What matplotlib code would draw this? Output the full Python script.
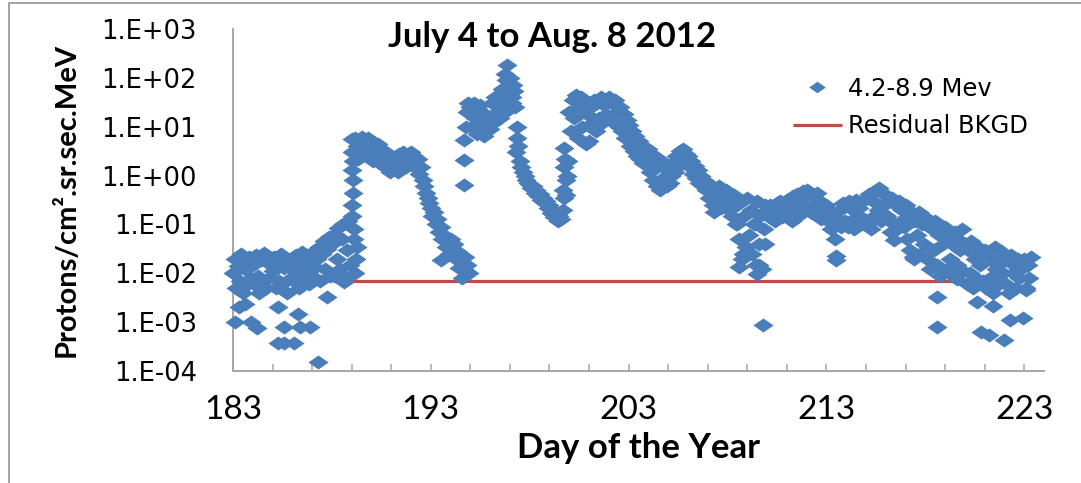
import matplotlib
matplotlib.use("Agg")
import matplotlib.pyplot as plt
import numpy as np
from matplotlib.lines import Line2D
from matplotlib.patches import Rectangle

BLUE = "#4A7EBB"
RED = "#BE4B48"
AXIS_GREY = "#A6A6A6"
LABEL_FONT = ["Lato", "DejaVu Sans"]
TICK_FONT = ["DejaVu Sans"]

# 2-hourly flux samples (protons/cm2.sr.sec.MeV), twelve per day from 00 UT
CADENCE = 1 / 12

quiet_start = 183.0
quiet_flux = [
    0.010, 0.020, 0.005, 0.014, 0.007, 0.025, 0.004, 0.012, 0.018, 0.006, 0.022, 0.008,  # 183
    0.015, 0.006, 0.024, 0.009, 0.004, 0.019, 0.007, 0.026, 0.005, 0.016, 0.008, 0.021,  # 184
    0.011, 0.022, 0.005, 0.017, 0.007, 0.025, 0.006, 0.013, 0.020, 0.004, 0.015, 0.008,  # 185
    0.019, 0.007, 0.024, 0.010, 0.005, 0.016, 0.027, 0.008, 0.013, 0.022, 0.006, 0.011,  # 186
    0.015, 0.028, 0.008, 0.020, 0.035, 0.007, 0.025, 0.045, 0.012, 0.032, 0.055, 0.009,  # 187
    0.040, 0.009, 0.065, 0.020, 0.085, 0.012, 0.050, 0.100, 0.008, 0.030, 0.120, 0.015,  # 188
]

event1_start = 189.0
event1_flux = [
    5.5, 3.0, 6.0, 4.0, 2.2, 5.0, 6.2, 3.5, 4.5, 2.5, 5.8, 4.0,                  # 189
    5.0, 2.0, 4.2, 3.0, 4.5, 1.8, 3.5, 2.5, 1.5, 3.0, 2.0, 1.2,                  # 190
    1.3, 2.0, 1.5, 2.5, 1.2, 2.8, 1.8, 3.0, 2.2, 1.5, 2.8, 2.0,                  # 191
    3.0, 1.8, 2.5, 1.4, 2.2, 1.1, 1.5, 0.8, 0.6, 0.45, 0.35, 0.28,               # 192
    0.22, 0.15, 0.18, 0.10, 0.13, 0.07, 0.09, 0.05, 0.06, 0.035, 0.045, 0.025,   # 193
    0.05, 0.03, 0.04, 0.02, 0.028, 0.013, 0.018, 0.008, 0.012, 0.022, 0.015, 0.01,  # 194
]

event2_start = 195.0
event2_flux = [
    25, 10, 30, 15, 7, 20, 28, 12, 6.5, 18, 9, 14,                              # 195
    9, 30, 12, 40, 20, 35, 15, 60, 25, 120, 180, 50,                            # 196
    100, 40, 70, 25, 10, 4, 2.0, 1.5, 1.2, 1.0, 0.8, 0.7,                       # 197
    0.65, 0.55, 0.6, 0.45, 0.5, 0.38, 0.42, 0.32, 0.35, 0.27, 0.3, 0.22,        # 198
    0.25, 0.17, 0.2, 0.14, 0.18, 0.12, 0.15, 0.13, 0.2, 0.35, 0.8, 2.0,         # 199
]

event3_start = 200.0
event3_flux = [
    20, 8, 35, 15, 45, 6, 25, 40, 10, 30, 4.5, 18,                              # 200
    5, 25, 12, 35, 8, 30, 15, 40, 12, 28, 18, 35,                               # 201
    40, 15, 30, 12, 35, 20, 10, 25, 8, 18, 6, 14,                               # 202
    11, 4, 8, 3.2, 6.5, 2.5, 5, 2.2, 4, 1.8, 3.2, 2.0,                          # 203
    3.5, 1.2, 2.8, 0.8, 2.2, 0.6, 1.6, 0.5, 2.0, 0.9, 1.4, 0.6,                 # 204
    1.3, 0.7, 1.0, 1.8, 1.2, 2.5, 1.6, 3.2, 2.2, 3.5, 2.0, 2.8,                 # 205
    2.5, 1.5, 2.0, 1.1, 1.6, 0.9, 1.3, 0.7, 1.0, 0.6, 0.8, 0.5,                 # 206
    0.7, 0.35, 0.55, 0.25, 0.18, 0.45, 0.3, 0.6, 0.22, 0.4, 0.28, 0.5,          # 207
    0.45, 0.2, 0.35, 0.15, 0.4, 0.1, 0.25, 0.05, 0.3, 0.02, 0.15, 0.035,        # 208
]

decay_start = 209.0
decay_flux = [
    0.35, 0.06, 0.2, 0.025, 0.1, 0.015, 0.3, 0.04, 0.15, 0.012, 0.08, 0.25,     # 209
    0.2, 0.15, 0.25, 0.13, 0.22, 0.12, 0.28, 0.16, 0.3, 0.14, 0.24, 0.18,       # 210
    0.32, 0.14, 0.25, 0.12, 0.38, 0.18, 0.42, 0.15, 0.3, 0.2, 0.48, 0.22,       # 211
    0.5, 0.2, 0.4, 0.17, 0.35, 0.25, 0.45, 0.15, 0.3, 0.13, 0.25, 0.18,         # 212
    0.25, 0.12, 0.2, 0.08, 0.15, 0.05, 0.023, 0.1, 0.2, 0.09, 0.27, 0.12,       # 213
    0.25, 0.09, 0.3, 0.12, 0.2, 0.08, 0.32, 0.15, 0.22, 0.1, 0.3, 0.13,         # 214
    0.35, 0.1, 0.42, 0.08, 0.3, 0.15, 0.5, 0.2, 0.55, 0.12, 0.45, 0.25,         # 215
    0.4, 0.15, 0.3, 0.07, 0.35, 0.1, 0.25, 0.08, 0.3, 0.12, 0.2, 0.09,          # 216
    0.25, 0.05, 0.2, 0.03, 0.15, 0.02, 0.12, 0.06, 0.18, 0.025, 0.1, 0.04,      # 217
    0.14, 0.02, 0.1, 0.012, 0.08, 0.03, 0.12, 0.015, 0.06, 0.009, 0.09, 0.04,   # 218
    0.09, 0.012, 0.06, 0.02, 0.04, 0.009, 0.07, 0.015, 0.05, 0.03, 0.08, 0.011, # 219
    0.04, 0.006, 0.03, 0.01, 0.045, 0.005, 0.02, 0.008, 0.035, 0.015, 0.025, 0.007,  # 220
    0.03, 0.005, 0.025, 0.008, 0.02, 0.004, 0.035, 0.012, 0.015, 0.006, 0.028, 0.01,  # 221
    0.022, 0.006, 0.018, 0.004, 0.024, 0.01, 0.015, 0.005, 0.02, 0.008, 0.012, 0.016, # 222
    0.02, 0.005, 0.015, 0.008, 0.022,                                            # 223
]

# off-cadence samples: steep onsets and isolated readings
onset_days = [
    189.0, 189.0, 189.05, 189.05, 189.0, 189.05, 189.0,
    189.1, 189.2, 189.15, 189.25, 189.1,
    194.7, 194.7, 194.7, 194.8, 194.85, 194.9,
    196.7, 196.9, 196.8,
    197.1, 197.2, 197.35, 197.3,
    199.7, 199.75, 199.75, 199.8, 199.85, 199.9,
    208.5, 208.8, 209.4, 209.6, 209.9,
]
onset_flux = [
    0.15, 0.25, 0.45, 0.8, 1.3, 2.0, 3.0,
    0.05, 0.02, 0.01, 0.035, 0.08,
    0.64, 2.1, 5.4, 10, 20, 30,
    40, 22, 90,
    30, 55, 6, 3,
    0.5, 1.5, 3.7, 2.2, 0.4, 1.0,
    0.1, 0.025, 0.1, 0.015, 0.04,
]

# low readings below the main band
low_days = [
    183.1, 183.3, 183.6, 183.9, 184.2, 185.3, 185.3, 185.6, 185.6,
    186.1, 186.3, 186.4, 186.9, 187.3, 187.75, 188.6,
    193.5, 208.6, 209.5, 209.8, 213.5, 216.4, 217.4,
    218.6, 218.6, 219.6, 220.6, 221.4, 220.8, 221.2,
    222.0, 222.3, 222.95, 223.1,
]
low_flux = [
    1.0e-3, 2.0e-3, 2.3e-3, 1.0e-3, 7.5e-4, 3.8e-4, 2.0e-3, 3.8e-4, 7.8e-4,
    3.8e-4, 1.5e-3, 7.8e-4, 7.8e-4, 1.5e-4, 3.2e-3, 6.5e-3,
    0.019, 0.0135, 0.0098, 8.9e-4, 0.019, 0.049, 0.022,
    3.3e-3, 7.8e-4, 7.7e-3, 2.6e-3, 2.1e-3, 6.2e-4, 5.5e-4,
    4.4e-4, 1.1e-3, 1.2e-3, 4.6e-3,
]

# residual background level, visible between the two quiet periods
bkgd_days = [188.8, 220.4]
bkgd_flux = [7.0e-3, 7.0e-3]

y_decades = list(range(-4, 4))
x_major = list(range(183, 224, 2))
x_labelled = [183, 193, 203, 213, 223]


def sampled(start, values):
    return start + CADENCE * np.arange(len(values)), np.asarray(values)


segments = [
    sampled(quiet_start, quiet_flux),
    sampled(event1_start, event1_flux),
    sampled(event2_start, event2_flux),
    sampled(event3_start, event3_flux),
    sampled(decay_start, decay_flux),
    (np.asarray(onset_days), np.asarray(onset_flux)),
    (np.asarray(low_days), np.asarray(low_flux)),
]
days = np.concatenate([s[0] for s in segments])
flux = np.concatenate([s[1] for s in segments])

# wide, flat diamond
DIAMOND = [(-1, 0), (0, 0.7), (1, 0), (0, -0.7), (-1, 0)]

W, H = 1081, 483
fig = plt.figure(figsize=(W / 100, H / 100), dpi=100)
ax = fig.add_axes([233 / W, 1 - 371 / H, (1044 - 233) / W, (371 - 29) / H])

ax.plot(bkgd_days, bkgd_flux, color=RED, lw=2.3, solid_capstyle="butt", zorder=2)
ax.plot(days, flux, ls="none", marker=DIAMOND, ms=14.5, mfc=BLUE, mec=BLUE,
        mew=0, zorder=3, clip_on=False)

ax.set_yscale("log")
ax.set_ylim(1e-4, 1e3)
ax.set_xlim(183, 224)
ax.set_yticks([10.0 ** e for e in y_decades])
ax.set_yticklabels([f"1.E{e:+03d}" for e in y_decades])
ax.yaxis.set_minor_locator(matplotlib.ticker.NullLocator())
ax.set_xticks(x_major)
ax.set_xticklabels([str(d) if d in x_labelled else "" for d in x_major])

for side in ("top", "right"):
    ax.spines[side].set_visible(False)
for side in ("left", "bottom"):
    ax.spines[side].set_color(AXIS_GREY)
    ax.spines[side].set_linewidth(1.4)

ax.tick_params(axis="y", length=0, pad=26, labelsize=18.5)
ax.tick_params(axis="x", direction="in", length=5, width=1.1, color=AXIS_GREY,
               pad=17, labelsize=24)
for lab in ax.get_yticklabels():
    lab.set_family(TICK_FONT)
for lab in ax.get_xticklabels():
    lab.set_family(LABEL_FONT)

ax.set_xlabel("Day of the Year", family=LABEL_FONT, weight="bold", size=25,
              labelpad=5)
ax.set_ylabel("Protons/cm\u00b2.sr.sec.MeV", family=LABEL_FONT, weight="bold",
              size=21, labelpad=16)

fig.text(552 / W, 1 - 37 / H, "July 4 to Aug. 8 2012", family=LABEL_FONT,
         weight="bold", size=25, ha="center", va="center")

handles = [
    Line2D([], [], ls="none", marker=DIAMOND, ms=12, mfc=BLUE, mec=BLUE, mew=0),
    Line2D([], [], color=RED, lw=2.3, solid_capstyle="butt"),
]
fig.legend(handles, ["4.2-8.9 Mev", "Residual BKGD"], loc="upper left",
           bbox_to_anchor=(793 / W, 1 - 77 / H), frameon=False, borderpad=0,
           borderaxespad=0, handlelength=2.0, handletextpad=0.25,
           labelspacing=0.55, prop={"family": TICK_FONT, "size": 17.5})

# chart-area frame
fig.patches.append(Rectangle((9 / W, -0.05), 1.1, 1 - 3.5 / H + 0.05,
                             transform=fig.transFigure, fill=False,
                             ec="#8C8C8C", lw=1.1))

fig.savefig("out.png", dpi=100)
